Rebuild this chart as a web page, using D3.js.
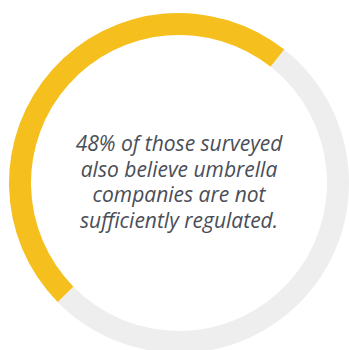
<!DOCTYPE html>
<html>
<head>
<meta charset="utf-8">
<script src="https://cdn.jsdelivr.net/npm/d3@7"></script>
<style>
  html, body { margin: 0; padding: 0; background: #ffffff; }
  svg { display: block; }
</style>
</head>
<body>
<svg id="chart" width="349" height="350"></svg>
<script>
// Share of respondents: agree vs. the remainder
const categories = ["Not sufficiently regulated", "Other"];
const values = [48, 52];
const colors = ["#F5BF1E", "#EDEEED"];
const captionLines = [
  "48% of those surveyed",
  "also believe umbrella",
  "companies are not",
  "sufficiently regulated."
];

const svg = d3.select("#chart");
const cx = 179, cy = 183;
const outerR = 170, innerR = 148;

// Ring begins at the lower left and runs clockwise
const start = -134.5 * Math.PI / 180;
const pie = d3.pie().sort(null).startAngle(start).endAngle(start + 2 * Math.PI);
const arc = d3.arc().innerRadius(innerR).outerRadius(outerR);

const g = svg.append("g").attr("transform", `translate(${cx},${cy})`);

g.selectAll("path")
  .data(pie(values))
  .join("path")
  .attr("d", arc)
  .attr("fill", (d, i) => colors[i])
  .append("title").text((d, i) => `${categories[i]}: ${values[i]}%`);

// Centre caption
const lineGap = 25.5;
const firstBaseline = 151 - cy;
g.append("text")
  .attr("text-anchor", "middle")
  .attr("font-family", "'Open Sans', sans-serif")
  .attr("font-style", "italic")
  .attr("font-size", 21)
  .attr("fill", "#4A4E57")
  .selectAll("tspan")
  .data(captionLines)
  .join("tspan")
  .attr("x", 0)
  .attr("y", (d, i) => firstBaseline + i * lineGap)
  .text(d => d);
</script>
</body>
</html>
